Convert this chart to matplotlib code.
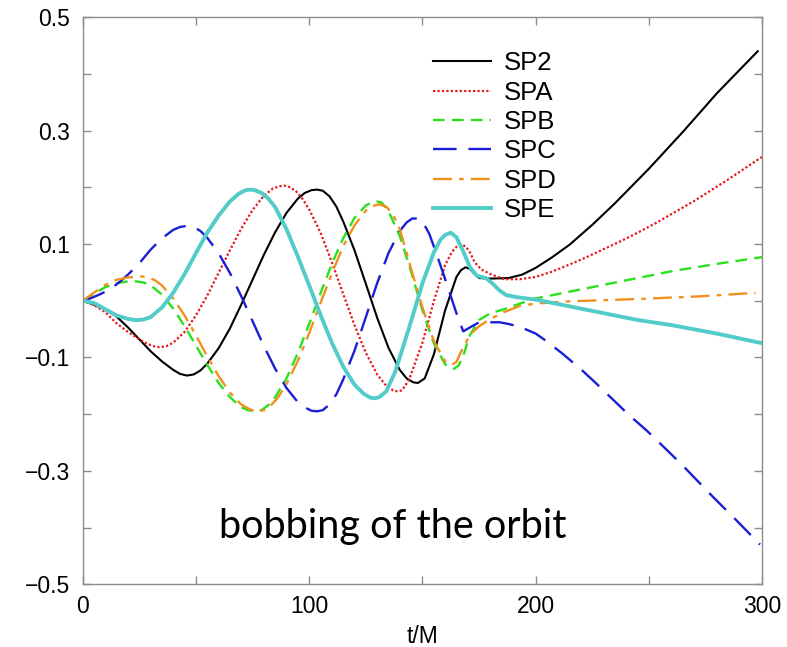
import matplotlib
matplotlib.use("Agg")
import matplotlib.pyplot as plt
import numpy as np
from matplotlib.ticker import MultipleLocator, FixedLocator

# t/M sample times and values, one pair per run
t_sp2 = [0, 5, 10, 15, 20, 25, 30, 35, 40, 43, 46, 49, 52, 55, 60, 65, 70, 75, 80, 85,
         90, 95, 98, 101, 103.5, 106, 109, 112, 115, 120, 125, 130, 135, 140, 143, 146,
         148, 151, 155, 160, 165, 167, 169, 171, 173, 175, 180, 188, 194, 200, 207, 215,
         225, 235, 250, 265, 280, 298]
y_sp2 = [0, -0.007, -0.015, -0.028, -0.047, -0.068, -0.089, -0.107, -0.122, -0.129,
         -0.132, -0.130, -0.123, -0.111, -0.084, -0.049, -0.007, 0.037, 0.081, 0.121,
         0.155, 0.180, 0.190, 0.195, 0.196, 0.194, 0.184, 0.166, 0.140, 0.089,
         0.030, -0.030, -0.083, -0.122, -0.137, -0.144, -0.145, -0.137, -0.095, -0.017,
         0.042, 0.054, 0.059, 0.056, 0.047, 0.040, 0.039, 0.040, 0.046, 0.058,
         0.076, 0.099, 0.134, 0.172, 0.233, 0.298, 0.366, 0.440]

t_spa = [0, 5, 10, 15, 20, 25, 29, 32, 34, 37, 40, 45, 50, 55, 60, 65, 70, 75, 80, 84,
         87, 89, 91, 94, 97, 100, 105, 110, 115, 120, 125, 130, 134, 137, 139, 141, 144,
         150, 155, 160, 163, 165, 167, 169, 171, 173, 176, 180, 186, 193, 200, 207, 215,
         222, 230, 238, 245, 253, 260, 270, 285, 300]
y_spa = [0, -0.008, -0.020, -0.040, -0.055, -0.068, -0.077, -0.081, -0.082, -0.080,
         -0.074, -0.055, -0.026, 0.009, 0.049, 0.089, 0.127, 0.160, 0.185, 0.198,
         0.202, 0.203, 0.201, 0.194, 0.180, 0.161, 0.120, 0.068, 0.012, -0.043,
         -0.092, -0.130, -0.150, -0.158, -0.160, -0.158, -0.140, -0.074, -0.001, 0.063,
         0.086, 0.095, 0.099, 0.096, 0.085, 0.068, 0.055, 0.047, 0.038, 0.038,
         0.042, 0.051, 0.064, 0.076, 0.091, 0.106, 0.120, 0.137, 0.153, 0.176,
         0.214, 0.254]

t_spb = [0, 5, 10, 15, 20, 24, 27, 30, 35, 40, 45, 50, 55, 60, 65, 70, 73, 76, 79, 82,
         85, 90, 95, 100, 105, 110, 115, 120, 125, 128, 130, 132, 135, 140, 145, 150,
         155, 160, 162, 164, 166, 168, 171, 175, 180, 186, 193, 200, 215, 230, 245, 260,
         280, 300]
y_spb = [0, 0.012, 0.024, 0.031, 0.034, 0.034, 0.032, 0.027, 0.011, -0.014,
         -0.045, -0.079, -0.113, -0.145, -0.170, -0.188, -0.193, -0.195, -0.193, -0.184,
         -0.170, -0.137, -0.092, -0.041, 0.013, 0.065, 0.110, 0.146, 0.168, 0.174,
         0.175, 0.173, 0.158, 0.114, 0.051, -0.017, -0.075, -0.112, -0.118, -0.120,
         -0.114, -0.097, -0.060, -0.034, -0.022, -0.015, -0.005, 0.004, 0.016, 0.028,
         0.040, 0.052, 0.065, 0.077]

t_spc = [0, 4, 8, 12, 16, 20, 25, 30, 35, 40, 43, 46, 49, 52, 55, 60, 65, 70, 75, 80,
         85, 90, 95, 98, 101, 103.5, 106, 109, 112, 115, 120, 125, 130, 135, 140, 143,
         145.5, 148, 150, 153, 156, 159, 162, 165, 168, 171, 175, 180, 184, 188, 193,
         200, 205, 212, 220, 227, 234, 241, 249, 256, 264, 271, 278, 290, 299]
y_spc = [0, 0.005, 0.012, 0.020, 0.032, 0.046, 0.066, 0.090, 0.110, 0.125, 0.130,
         0.132, 0.130, 0.123, 0.111, 0.084, 0.049, 0.008, -0.036, -0.080,
         -0.120, -0.154, -0.179, -0.188, -0.194, -0.195, -0.193, -0.183, -0.165, -0.139,
         -0.088, -0.029, 0.031, 0.084, 0.123, 0.138, 0.145, 0.145, 0.140, 0.118,
         0.085, 0.050, 0.014, -0.022, -0.054, -0.047, -0.038, -0.038, -0.038, -0.041,
         -0.046, -0.058, -0.072, -0.094, -0.121, -0.147, -0.174, -0.201, -0.229, -0.256,
         -0.287, -0.316, -0.345, -0.393, -0.430]

t_spd = [0, 5, 10, 15, 20, 23, 26, 29, 32, 35, 40, 45, 50, 55, 60, 65, 70, 74, 77, 80,
         83, 86, 90, 95, 100, 105, 110, 115, 120, 125, 128, 131, 134, 137, 140, 145, 150,
         155, 160, 161.5, 163, 165, 167, 171, 175, 180, 186, 193, 200, 215, 245, 274,
         297]
y_spd = [0, 0.014, 0.028, 0.037, 0.041, 0.042, 0.043, 0.041, 0.036, 0.027,
         0.004, -0.026, -0.061, -0.098, -0.133, -0.162, -0.183, -0.192, -0.195, -0.193,
         -0.185, -0.172, -0.147, -0.106, -0.057, -0.004, 0.048, 0.096, 0.133, 0.159,
         0.167, 0.170, 0.166, 0.152, 0.126, 0.056, -0.012, -0.071, -0.107, -0.111,
         -0.113, -0.108, -0.090, -0.060, -0.045, -0.032, -0.020, -0.009, -0.005, -0.001,
         0.003, 0.008, 0.014]

t_spe = [0, 5, 10, 15, 20, 23, 25, 27, 30, 35, 40, 45, 50, 55, 60, 65, 69, 72, 74, 76,
         79, 82, 85, 90, 95, 100, 105, 110, 115, 120, 124, 127, 129, 131, 134, 138, 145,
         150, 155, 158, 160, 162.5, 165, 168, 171, 174, 178, 181, 184, 187, 192, 200,
         215, 230, 245, 260, 280, 300]
y_spe = [0, -0.004, -0.015, -0.026, -0.032, -0.034, -0.034, -0.033, -0.029, -0.012,
         0.014, 0.047, 0.084, 0.120, 0.150, 0.175, 0.189, 0.195, 0.196, 0.195,
         0.190, 0.180, 0.165, 0.126, 0.078, 0.027, -0.025, -0.074, -0.116, -0.148,
         -0.164, -0.171, -0.172, -0.170, -0.160, -0.125, -0.036, 0.031, 0.085, 0.108,
         0.116, 0.120, 0.112, 0.087, 0.059, 0.044, 0.040, 0.030, 0.018, 0.010,
         0.006, 0.002, -0.010, -0.022, -0.034, -0.043, -0.058, -0.075]

labels = ["SP2", "SPA", "SPB", "SPC", "SPD", "SPE"]
note_text = "bobbing of the orbit"

plt.rcParams["font.family"] = ["Liberation Sans", "DejaVu Sans"]

fig = plt.figure(figsize=(7.87, 6.47), dpi=100)
ax = fig.add_axes([0.105, 0.097, 0.8636, 0.8764])

style = dict(solid_joinstyle="round", dash_joinstyle="round")
ax.plot(t_sp2, y_sp2, color="black", lw=1.5, label=labels[0], **style)
ax.plot(t_spa, y_spa, color="#e8161e", lw=1.6, ls=(0, (1, 1)), label=labels[1], **style)
ax.plot(t_spb, y_spb, color="#2be01e", lw=1.7, ls=(0, (5, 3)), label=labels[2], **style)
ax.plot(t_spc, y_spc, color="#1a1fd6", lw=1.7, ls=(0, (10, 5)), label=labels[3], **style)
ax.plot(t_spd, y_spd, color="#f0901e", lw=1.7, ls=(0, (8, 3, 2, 3)), label=labels[4], **style)
ax.plot(t_spe, y_spe, color="#52ccc8", lw=2.8, label=labels[5], **style)

ax.set_xlim(0, 300)
ax.set_ylim(-0.5, 0.5)
ax.xaxis.set_major_locator(FixedLocator([0, 100, 200, 300]))
ax.xaxis.set_minor_locator(MultipleLocator(50))
ax.yaxis.set_major_locator(FixedLocator([-0.5, -0.3, -0.1, 0.1, 0.3, 0.5]))
ax.yaxis.set_minor_locator(MultipleLocator(0.1))
ax.set_yticklabels(["\u22120.5", "\u22120.3", "\u22120.1", "0.1", "0.3", "0.5"])

for s in ax.spines.values():
    s.set_color("#8c8c8c")
    s.set_linewidth(1.0)
ax.tick_params(which="both", direction="in", top=True, right=True,
               color="#8c8c8c", width=1.0, length=6)
ax.tick_params(axis="both", labelsize=16.5, pad=9)
ax.tick_params(axis="x", pad=8)

ax.set_xlabel("t/M", fontsize=16.5, labelpad=5)

ax.text(137, -0.418, note_text, ha="center", va="baseline",
        fontsize=28.5, family=["Lato", "DejaVu Sans"])

leg = ax.legend(loc="upper left", bbox_to_anchor=(0.5, 0.958), frameon=False,
                fontsize=18.5, handlelength=2.25, handletextpad=0.5,
                labelspacing=0.21, borderaxespad=0)

fig.savefig("out.png", dpi=100)
